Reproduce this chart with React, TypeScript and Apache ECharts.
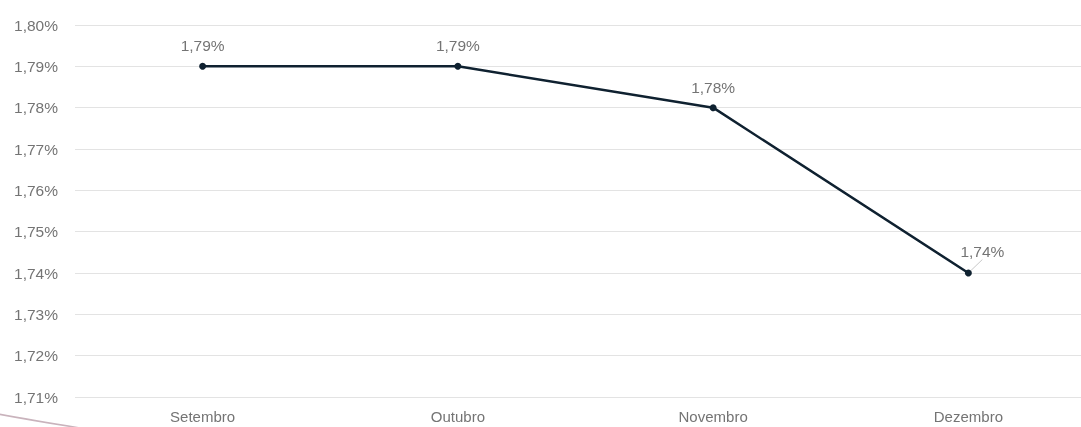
import React, { useEffect, useRef } from "react";
import * as echarts from "echarts";

const categories = ["Setembro", "Outubro", "Novembro", "Dezembro"];
const values = [1.79, 1.79, 1.78, 1.74];
const yMin = 1.71;
const yMax = 1.8;
const yStep = 0.01;

const fmt = (v: number) => v.toFixed(2).replace(".", ",") + "%";
const textColor = "#747474";
const font = "'Liberation Sans', Arial, sans-serif";

export default function App() {
  const ref = useRef<HTMLDivElement>(null);
  useEffect(() => {
    if (!ref.current) return;
    const chart = echarts.init(ref.current, null, { renderer: "svg" });
    const lastIdx = values.length - 1;
    chart.setOption({
      animation: false,
      textStyle: { fontFamily: font },
      grid: { left: 75, right: 0, top: 25, bottom: 30, containLabel: false },
      xAxis: {
        type: "category",
        data: categories,
        boundaryGap: true,
        axisLine: { show: false },
        axisTick: { show: false },
        axisLabel: { color: textColor, fontSize: 15, margin: 12, fontFamily: font },
      },
      yAxis: {
        type: "value",
        min: yMin,
        max: yMax,
        interval: yStep,
        axisLine: { show: false },
        axisTick: { show: false },
        axisLabel: {
          color: textColor,
          fontSize: 15.5,
          margin: 17,
          fontFamily: font,
          formatter: (v: number) => fmt(v),
        },
        splitLine: { lineStyle: { color: "#e3e3e3", width: 1 } },
      },
      series: [
        {
          type: "line",
          data: values.map((v, i) =>
            i === lastIdx
              ? {
                  value: v,
                  labelLine: {
                    show: true,
                    minTurnAngle: 0,
                    lineStyle: { color: "#c8c8c8", width: 1 },
                  },
                }
              : v
          ),
          symbol: "circle",
          symbolSize: 7,
          lineStyle: { color: "#0f2130", width: 2.5 },
          itemStyle: { color: "#0f2130" },
          label: {
            show: true,
            position: "top",
            distance: 9,
            color: textColor,
            fontSize: 15.5,
            fontFamily: font,
            formatter: (p: any) => fmt(p.value),
          },
          labelLine: { show: false },
          labelLayout: (params: any) =>
            params.dataIndex === lastIdx ? { dx: 14, dy: -1 } : {},
        },
      ],
      graphic: [
        {
          type: "bezierCurve",
          shape: { x1: -2, y1: 414, x2: 80, y2: 428, cpx1: 30, cpy1: 420 },
          style: { stroke: "#c9b3bc", lineWidth: 1.5, fill: "none" },
        },
      ],
    });
    return () => chart.dispose();
  }, []);
  return (
    <div
      style={{
        position: "fixed",
        left: 0,
        top: 0,
        width: 1081,
        height: 427,
        overflow: "hidden",
      }}
    >
      <div ref={ref} style={{ width: 1096, height: 427 }} />
    </div>
  );
}
